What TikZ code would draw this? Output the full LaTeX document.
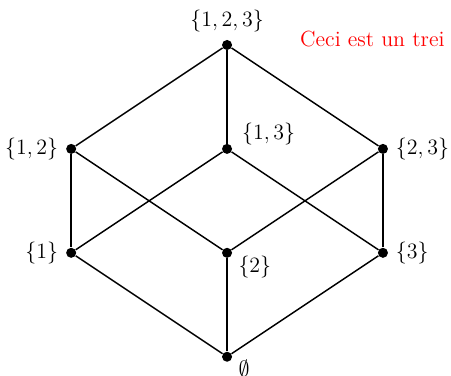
\documentclass[12pt,tikz,border=0pt]{standalone}
\usepackage{tikz}
\usepackage{amsmath}
\usepackage{amssymb}
\tikzset{
  vertex/.style={circle, fill=black, inner sep=0pt, minimum size=5.5pt},
  hasse/.style={thick},
  remark/.style={text=red, anchor=base west},
  near below/.style={inner sep=0pt, xshift=4pt, yshift=0.5pt},
  near above/.style={inner sep=0pt, xshift=6pt},
}

\begin{document}
\begin{tikzpicture}
    \useasboundingbox (-4.37,-0.37) rectangle (4.31,6.866);
    \node[vertex, label=above:{$\{1,2,3\}$}] (s123) at (0, 6) {};
    \node[vertex, label=left:{$\{1,2\}$}] (s12) at (-3, 4) {};
    \node[vertex, label={[near above]above right:{$\{1,3\}$}}] (s13) at (0, 4) {};
    \node[vertex, label=right:{$\{2,3\}$}] (s23) at (3, 4) {};
    \node[vertex, label=left:{$\{1\}$}] (s1) at (-3, 2) {};
    \node[vertex, label={[near below]below right:{$\{2\}$}}] (s2) at (0, 2) {};
    \node[vertex, label=right:{$\{3\}$}] (s3) at (3, 2) {};
    \node[vertex, label={[near below]below right:{$\emptyset$}}] (s0) at (0, 0) {};
    \draw[hasse] (s123) -- (s12);
    \draw[hasse] (s123) -- (s13);
    \draw[hasse] (s123) -- (s23);
    \draw[hasse] (s12) -- (s1);
    \draw[hasse] (s12) -- (s2);
    \draw[hasse] (s13) -- (s1);
    \draw[hasse] (s13) -- (s3);
    \draw[hasse] (s23) -- (s2);
    \draw[hasse] (s23) -- (s3);
    \draw[hasse] (s1) -- (s0);
    \draw[hasse] (s2) -- (s0);
    \draw[hasse] (s3) -- (s0);
    \node[remark] (note) at (1.26, 5.98) {Ceci est un trei};
  \end{tikzpicture}
\end{document}
